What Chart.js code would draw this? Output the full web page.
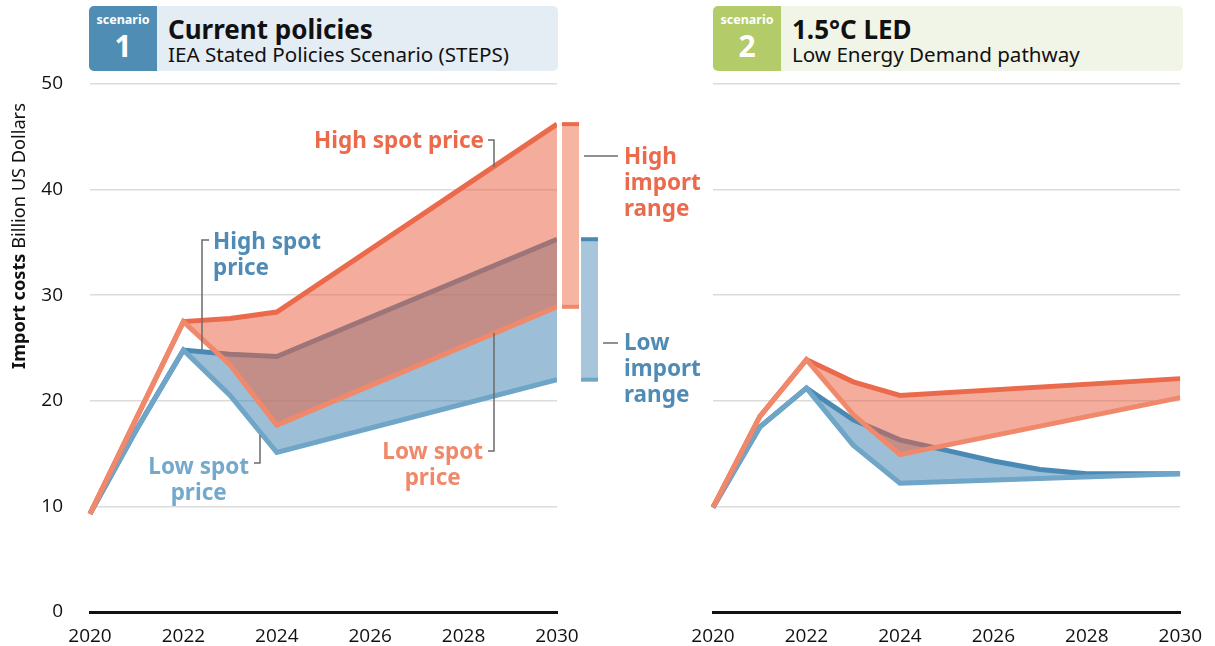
<!DOCTYPE html>
<html>
<head>
<meta charset="utf-8">
<script src="https://cdn.jsdelivr.net/npm/chart.js@4.4.1/dist/chart.umd.min.js"></script>
<style>
  body { margin: 0; background: #fff; font-family: "Noto Sans", sans-serif; }
  #wrap { position: relative; width: 1215px; height: 646px; overflow: hidden; }
  .hdr { position: absolute; top: 6px; height: 65px; border-radius: 5px; overflow: hidden; }
  .badge { position: absolute; left: 0; top: 0; width: 68px; height: 65px; color: #fff; text-align: center; font-weight: 700; }
  .badge .sc { position: absolute; left: 0; right: 0; top: 6px; font-size: 12.5px; line-height: 16px; }
  .badge .num { position: absolute; left: 0; right: 0; top: 20px; font-size: 30px; line-height: 40px; }
  .ttl { position: absolute; left: 79px; top: 6px; font-size: 26px; font-weight: 700; color: #111; line-height: 34px; }
  .sub { position: absolute; left: 79px; top: 35px; font-size: 20.6px; color: #111; line-height: 26px; }
  .note { position: absolute; font-weight: 700; font-size: 22.5px; line-height: 26px; white-space: nowrap; }
  .cv { position: absolute; top: 0; }
  #ytitle { position: absolute; left: -132px; top: 225px; width: 300px; height: 22px; line-height: 22px;
            text-align: center; font-size: 18.2px; color: #111; transform: rotate(-90deg); white-space: nowrap; }
  svg { position: absolute; left: 0; top: 0; }
</style>
</head>
<body>
<div id="wrap">
  <div class="hdr" style="left:89px;width:469px;background:#e4ecf4">
    <div class="badge" style="background:#4f8db5"><div class="sc">scenario</div><div class="num">1</div></div>
    <div class="ttl">Current policies</div>
    <div class="sub">IEA Stated Policies Scenario (STEPS)</div>
  </div>
  <div class="hdr" style="left:713px;width:470px;background:#f1f5e7">
    <div class="badge" style="background:#b3cb69"><div class="sc">scenario</div><div class="num">2</div></div>
    <div class="ttl">1.5°C LED</div>
    <div class="sub">Low Energy Demand pathway</div>
  </div>

  <canvas id="c1" class="cv" width="640" height="646" style="left:0"></canvas>
  <canvas id="c2" class="cv" width="575" height="646" style="left:640px"></canvas>

  <div id="ytitle"><b>Import costs</b> Billion US Dollars</div>

  <svg width="1215" height="646">
    <g stroke="#6b6b6b" stroke-width="1.5" fill="none">
      <polyline points="488,140 494,140 494,167"/>
      <polyline points="209,240 202,240 202,350"/>
      <polyline points="254,463 260,463 260,435"/>
      <polyline points="488,451 494,451 494,333"/>
      <polyline points="584,156 618,156"/>
      <polyline points="603,343 618,343"/>
    </g>
  </svg>

  <div class="note" style="right:731px;top:127px;color:#ec6a4c">High spot price</div>
  <div class="note" style="left:213px;top:228px;color:#4f8bb5">High spot<br>price</div>
  <div class="note" style="right:966px;top:453px;color:#74a9cc;text-align:center">Low spot<br>price</div>
  <div class="note" style="right:732px;top:438px;color:#f0886a;text-align:center">Low spot<br>price</div>
  <div class="note" style="left:624px;top:143px;color:#ec6a4c">High<br>import<br>range</div>
  <div class="note" style="left:624px;top:329px;color:#4f8bb5">Low<br>import<br>range</div>
</div>

<script>
const years = [2020, 2021, 2022, 2023, 2024, 2025, 2026, 2027, 2028, 2029, 2030];
const xTicks = [2020, 2022, 2024, 2026, 2028, 2030];
const yTicks = [0, 10, 20, 30, 40, 50];

// scenario 1: current policies (STEPS)
const s1HighImportHighSpot = [9.3, 18.4, 27.5, 27.8, 28.4, null, null, null, null, null, 46.2];
const s1HighImportLowSpot  = [9.3, 18.4, 27.5, 23.4, 17.7, null, null, null, null, null, 28.9];
const s1LowImportHighSpot  = [9.3, 17.3, 24.8, 24.4, 24.2, null, null, null, null, null, 35.3];
const s1LowImportLowSpot   = [9.3, 17.3, 24.8, 20.5, 15.1, null, null, null, null, null, 22.0];

// scenario 2: 1.5C low energy demand
const s2HighImportHighSpot = [9.9, 18.5, 23.9, 21.8, 20.5, null, null, null, null, null, 22.1];
const s2HighImportLowSpot  = [9.9, 18.5, 23.9, 18.7, 14.9, null, null, null, null, null, 20.3];
const s2LowImportHighSpot  = [9.9, 17.5, 21.2, 18.2, 16.3, 15.3, 14.3, 13.5, 13.1, 13.1, 13.1];
const s2LowImportLowSpot   = [9.9, 17.5, 21.2, 15.8, 12.2, null, null, null, null, null, 13.1];

const RED = '#ec6a4c', SALMON = '#f0896b', BLUE = '#4a89b3', LBLUE = '#6fa5c7';
const RED_FILL = 'rgba(234,98,66,0.52)', BLUE_FILL = 'rgba(74,137,181,0.55)';

Chart.defaults.font.family = "'Open Sans', sans-serif";
Chart.defaults.color = '#111';

function pts(vals) {
  const out = [];
  vals.forEach((v, i) => { if (v !== null) out.push({ x: years[i], y: v }); });
  return out;
}

function line(vals, color, fill) {
  return {
    data: pts(vals),
    borderColor: color,
    borderWidth: 5,
    pointRadius: 0,
    tension: 0,
    borderJoinStyle: 'miter',
    fill: fill === undefined ? false : { target: fill.target },
    backgroundColor: fill ? fill.color : color,
    clip: { left: 5, top: 5, right: 0, bottom: 5 }
  };
}

// small range bars next to the 2030 end of scenario 1
const rangeBars = {
  id: 'rangeBars',
  afterDatasetsDraw(chart) {
    const y = chart.scales.y, ctx = chart.ctx, r = chart.chartArea.right;
    const bars = [
      { x: r + 5, top: s1HighImportHighSpot[10], bot: s1HighImportLowSpot[10], fill: '#f6b4a3', c1: RED, c2: SALMON },
      { x: r + 24, top: s1LowImportHighSpot[10], bot: s1LowImportLowSpot[10], fill: '#a8c6db', c1: BLUE, c2: LBLUE }
    ];
    ctx.save();
    bars.forEach(b => {
      const yt = y.getPixelForValue(b.top), yb = y.getPixelForValue(b.bot);
      ctx.fillStyle = b.fill;
      ctx.fillRect(b.x, yt, 17, yb - yt);
      ctx.fillStyle = b.c1;
      ctx.fillRect(b.x, yt - 2, 17, 4);
      ctx.fillStyle = b.c2;
      ctx.fillRect(b.x, yb - 2, 17, 4);
    });
    ctx.restore();
  }
};

function makeChart(id, series, yw, padRight, showY, plugins) {
  return new Chart(id, {
    type: 'line',
    data: {
      datasets: [
        line(series[1], SALMON),
        line(series[0], RED, { target: 0, color: RED_FILL }),
        line(series[3], LBLUE),
        line(series[2], BLUE, { target: 2, color: BLUE_FILL })
      ]
    },
    plugins: plugins,
    options: {
      responsive: false,
      animation: false,
      layout: { padding: { top: 84, right: padRight, left: 0, bottom: 0 } },
      plugins: { legend: { display: false }, tooltip: { enabled: false } },
      scales: {
        x: {
          type: 'linear', min: 2020, max: 2030,
          afterBuildTicks: s => { s.ticks = xTicks.map(v => ({ value: v })); },
          afterFit: s => { s.height = 34; },
          grid: { display: false, drawTicks: false },
          border: { display: true, color: '#111', width: 3 },
          ticks: { font: { size: 19 }, padding: 13, maxRotation: 0, callback: v => String(v) }
        },
        y: {
          min: 0, max: 50,
          afterBuildTicks: s => { s.ticks = yTicks.map(v => ({ value: v })); },
          afterFit: s => { s.width = yw; },
          grid: {
            drawTicks: false, lineWidth: 1.5,
            color: c => (c.tick && c.tick.value === 0) ? 'rgba(0,0,0,0)' : '#dcdcdc'
          },
          border: { display: false },
          // small lineHeight keeps the label overflow from pushing the plot bottom up
          ticks: { display: showY, font: { size: 19, lineHeight: 0.7 }, padding: 27 }
        }
      }
    }
  });
}

makeChart('c1', [s1HighImportHighSpot, s1HighImportLowSpot, s1LowImportHighSpot, s1LowImportLowSpot], 90, 83, true, [rangeBars]);
makeChart('c2', [s2HighImportHighSpot, s2HighImportLowSpot, s2LowImportHighSpot, s2LowImportLowSpot], 73, 33, false, []);
</script>
</body>
</html>
